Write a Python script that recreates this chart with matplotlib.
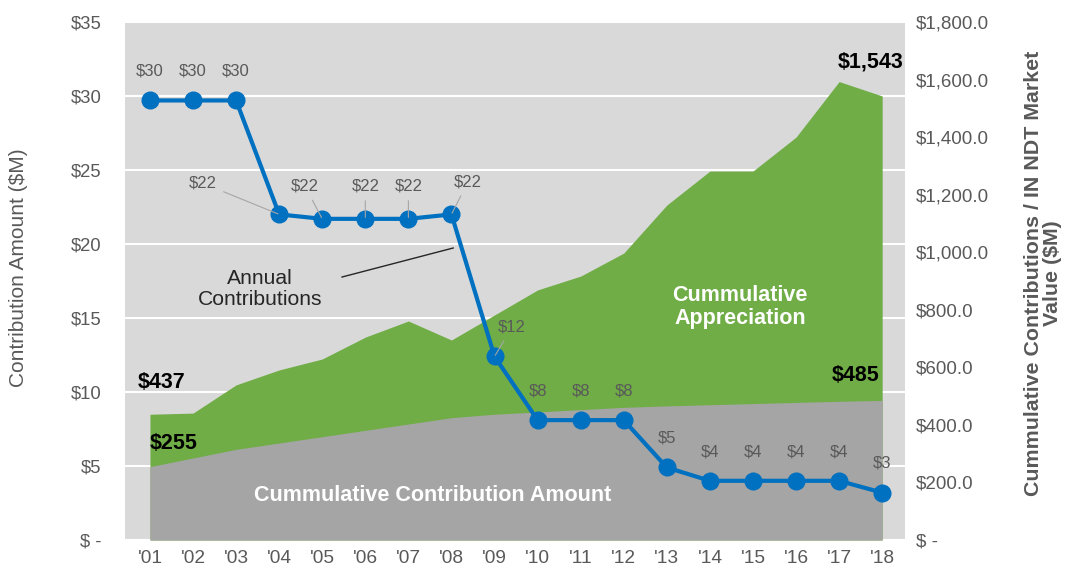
import numpy as np
from matplotlib import pyplot as plt
from matplotlib.transforms import blended_transform_factory

plt.rcParams['font.family'] = ['Liberation Sans', 'DejaVu Sans']

years = ["'01", "'02", "'03", "'04", "'05", "'06", "'07", "'08", "'09",
         "'10", "'11", "'12", "'13", "'14", "'15", "'16", "'17", "'18"]
annual = [29.7, 29.7, 29.7, 22.0, 21.7, 21.7, 21.7, 22.0, 12.4,
          8.1, 8.1, 8.1, 4.9, 4.0, 4.0, 4.0, 4.0, 3.2]
annual_labels = ["$30", "$30", "$30", "$22", "$22", "$22", "$22", "$22", "$12",
                 "$8", "$8", "$8", "$5", "$4", "$4", "$4", "$4", "$3"]
market_value = [437, 441, 539, 591, 629, 705, 761, 695, 782,
                869, 917, 997, 1164, 1282, 1282, 1400, 1593, 1543]
cum_contrib = [255, 285, 315, 337, 359, 381, 403, 425, 437,
               445, 453, 461, 466, 470, 474, 478, 482, 485]

GRAY_TXT = '#595959'


def main():
    fig = plt.figure(figsize=(10.7, 5.76), dpi=100)
    ax = fig.add_axes([0.1168, 0.0625, 0.7290, 0.8993])
    ax2 = ax.twinx()
    x = np.arange(len(years))

    # background + areas on the right-hand scale
    ax.set_facecolor('#D9D9D9')
    ax.set_xlim(-0.58, 17.53)
    ax.set_ylim(0, 1800)
    ax2.set_ylim(0, 35)

    trans = blended_transform_factory(ax.transAxes, ax2.transData)
    for v in range(0, 40, 5):
        ax.plot([0, 1], [v, v], transform=trans, color='white', lw=1.5, zorder=1)

    ax.fill_between(x, 0, market_value, color='#70AD47', lw=0, zorder=2)
    ax.fill_between(x, 0, cum_contrib, color='#A5A5A5', lw=0, zorder=3)

    ax.yaxis.tick_right()
    ax.set_yticks(range(0, 2000, 200))
    ax.set_yticklabels(['$ -'] + ['${:,.1f}'.format(v) for v in range(200, 2000, 200)])
    ax.tick_params(axis='y', length=0, pad=8, labelsize=13.5, labelcolor=GRAY_TXT)
    ax.set_xticks(x)
    ax.set_xticklabels(years)
    ax.tick_params(axis='x', length=0, pad=7, labelsize=13.8, labelcolor=GRAY_TXT)

    # annual contributions line on the left-hand scale
    ax2.yaxis.tick_left()
    ax2.set_yticks(range(0, 40, 5))
    ax2.set_yticklabels(['$ -'] + ['${}'.format(v) for v in range(5, 40, 5)])
    ax2.tick_params(axis='y', length=0, pad=17, labelsize=13.3, labelcolor=GRAY_TXT)
    ax2.plot(x, annual, color='#0070C0', lw=3, marker='o', ms=12, zorder=5)

    for sp in list(ax.spines.values()) + list(ax2.spines.values()):
        sp.set_visible(False)

    # data labels; some of them sit off the point with a leader line
    leader = {3: (1.23, 24.1), 4: (3.6, 23.9), 5: (5.0, 23.9), 6: (6.0, 23.9),
              7: (7.38, 24.2), 8: (8.41, 14.4)}
    for i, (v, lab) in enumerate(zip(annual, annual_labels)):
        if i in leader:
            ax2.annotate(lab, xy=(i, v), xytext=leader[i], ha='center', va='center',
                         fontsize=12, color=GRAY_TXT, zorder=6,
                         arrowprops=dict(arrowstyle='-', color='#A6A6A6', lw=0.8,
                                         shrinkA=3, shrinkB=1))
        else:
            ax2.annotate(lab, xy=(i, v), xytext=(0, 21), textcoords='offset points',
                         ha='center', va='center', fontsize=12, color=GRAY_TXT, zorder=6)

    ax2.text(2.55, 16.96, 'Annual\nContributions', ha='center', va='center',
             fontsize=15.2, color='#262626', linespacing=1.1, zorder=6)
    ax2.plot([4.46, 7.04], [17.77, 19.73], color='#262626', lw=1, zorder=6)

    # area call-outs
    ax.text(13.7, 810, 'Cummulative\nAppreciation', ha='center', va='center',
            fontsize=15.5, fontweight='bold', color='white', linespacing=1.1, zorder=6)
    ax.text(6.57, 156, 'Cummulative Contribution Amount', ha='center', va='center',
            fontsize=15.5, fontweight='bold', color='white', zorder=6)
    ax.text(-0.28, 546, '$437', ha='left', va='center', fontsize=15.5,
            fontweight='bold', color='black', zorder=6)
    ax.text(0.0, 337, '$255', ha='left', va='center', fontsize=15.5,
            fontweight='bold', color='black', zorder=6)
    ax.text(17.49, 1661, '$1,543', ha='right', va='center', fontsize=15.5,
            fontweight='bold', color='black', zorder=6)
    ax.text(16.93, 573, '$485', ha='right', va='center', fontsize=15.5,
            fontweight='bold', color='black', zorder=6)

    fig.text(0.017, 0.536, 'Contribution Amount ($M)', rotation=90, ha='center',
             va='center', fontsize=15, color=GRAY_TXT)
    fig.text(0.975, 0.526, 'Cummulative Contributions / IN NDT Market\nValue ($M)',
             rotation=90, ha='center', va='center', multialignment='center',
             fontsize=15.4, fontweight='bold', color=GRAY_TXT, linespacing=1.0)

    fig.savefig('out.png', dpi=100)
    plt.close(fig)


if __name__ == "__main__":
    main()
